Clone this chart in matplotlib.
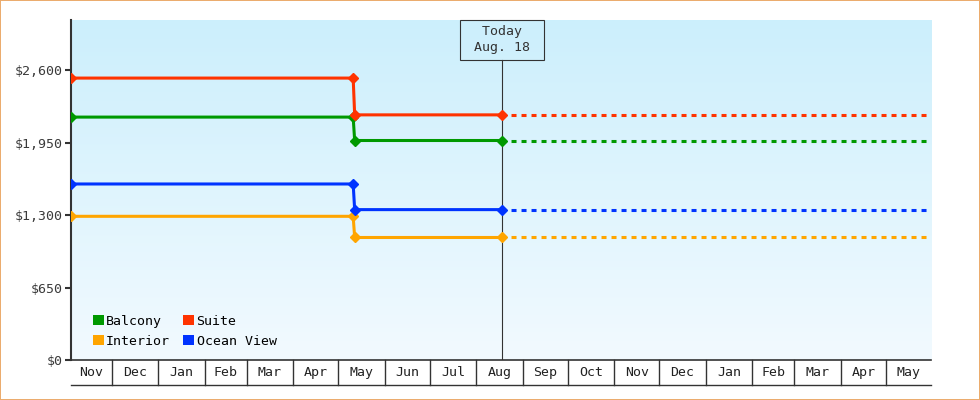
import matplotlib
matplotlib.use('Agg')
import matplotlib.pyplot as plt
from matplotlib.colors import LinearSegmentedColormap
from matplotlib.patches import Patch, Rectangle
import numpy as np
import pandas as pd

plt.rcParams['font.family'] = ['DejaVu Sans Mono']
plt.rcParams['lines.scale_dashes'] = False

# price history: start, last old price, first new price, today
dates = pd.to_datetime(['2021-11-04', '2022-05-11', '2022-05-12', '2022-08-18'])
end_date = pd.Timestamp('2023-05-31')
today = dates[-1]

balcony = [2179, 2179, 1969, 1969]
interior = [1289, 1289, 1099, 1099]
suite = [2529, 2529, 2199, 2199]
ocean_view = [1579, 1579, 1349, 1349]

series_names = ['Balcony', 'Interior', 'Suite', 'Ocean View']
series_values = [balcony, interior, suite, ocean_view]
series_colors = ['#009900', '#FFA500', '#FF3300', '#0033FF']

y_ticks = [0, 650, 1300, 1950, 2600]
y_max = 3050

dark = '#333333'

fig = plt.figure(figsize=(9.8, 4), dpi=100)
ax = fig.add_axes([71 / 980, 40 / 400, 860 / 980, 340 / 400])

# background gradient
bg = LinearSegmentedColormap.from_list('bg', ['#CCEFFC', '#F2FAFF'])
ax.imshow(np.linspace(0, 1, 256).reshape(-1, 1), cmap=bg, extent=[0, 1, 0, 1],
          transform=ax.transAxes, aspect='auto', zorder=0)

for name, vals, col in zip(series_names, series_values, series_colors):
    ax.plot(dates, vals, color=col, lw=2.2, marker='D', ms=5.5, zorder=3)
    ax.plot([today, end_date], [vals[-1], vals[-1]], color=col, lw=2.2,
            linestyle=(0.7, (3.6, 3.6)), zorder=2)

ax.set_xlim(dates[0], end_date)
ax.set_ylim(0, y_max)

# today marker
ax.axvline(today, ymin=0, ymax=300 / 340, color=dark, lw=0.8, zorder=2.5)
ax.text(today, 1 - 20 / 340, ' Today \n Aug. 18 ', transform=ax.get_xaxis_transform(),
        ha='center', va='center', fontsize=9.5, color=dark, linespacing=1.3,
        bbox=dict(boxstyle='square,pad=0.45', fc='none', ec=dark, lw=0.8), zorder=4)

# y axis
ax.set_yticks(y_ticks)
ax.set_yticklabels([f'${v:,}' for v in y_ticks])
ax.tick_params(axis='y', length=4.3, width=1.5, color=dark, labelsize=9.5,
               labelcolor='#3a3a3a', pad=1.5)
ax.set_xticks([])
for s in ['top', 'right']:
    ax.spines[s].set_visible(False)
ax.spines['left'].set_linewidth(1.5)
ax.spines['left'].set_color(dark)
ax.spines['bottom'].set_linewidth(1.2)
ax.spines['bottom'].set_color(dark)

# month cells below the plot
trans = ax.get_xaxis_transform()
cell_h = 25 / 340
month_starts = list(pd.date_range(dates[0], end_date, freq='MS'))
bounds = [dates[0]] + month_starts + [end_date]
for b in month_starts:
    ax.plot([b, b], [0, -cell_h], transform=trans, color=dark, lw=1, clip_on=False)
ax.plot([dates[0], end_date], [-cell_h, -cell_h], transform=trans, color=dark,
        lw=1, clip_on=False)
for a, b in zip(bounds[:-1], bounds[1:]):
    ax.text(a + (b - a) / 2, -cell_h / 2, a.strftime('%b'), transform=trans,
            ha='center', va='center', fontsize=9.5, color='#222222')

handles = [Patch(facecolor=c, edgecolor='none') for c in series_colors]
ax.legend(handles, series_names, loc='lower left', bbox_to_anchor=(0.0256, 0.036),
          ncol=2, frameon=False, handlelength=0.8, handleheight=0.8,
          handletextpad=0.2, columnspacing=1.0, labelspacing=0.55, borderpad=0,
          borderaxespad=0, prop={'size': 9.5})

fig.add_artist(Rectangle((0, 0), 1, 1, transform=fig.transFigure, fill=False,
                         ec='#EBAA6A', lw=1.4))

fig.savefig('out.png', dpi=100)
